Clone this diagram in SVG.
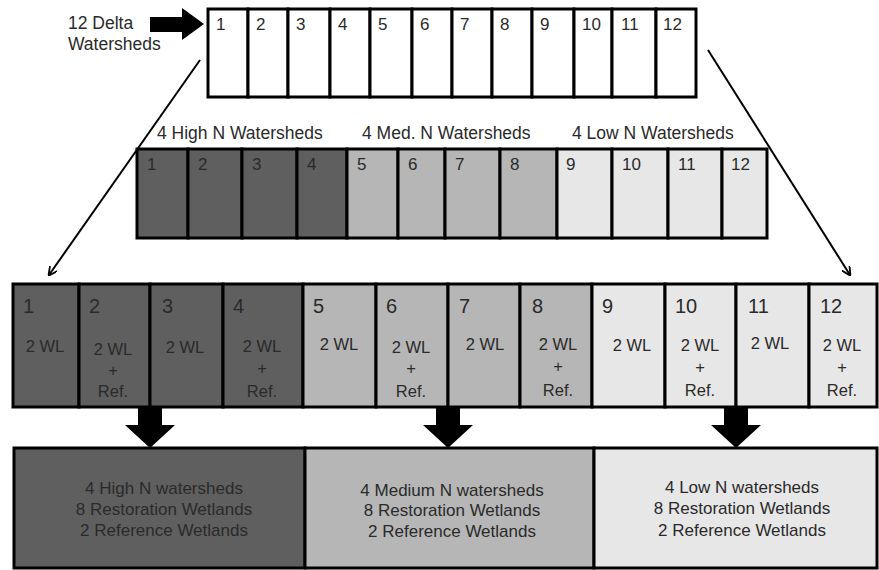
<svg xmlns="http://www.w3.org/2000/svg" width="879" height="570" viewBox="0 0 879 570">
<defs>
<marker id="ah" viewBox="0 0 10 10" refX="9" refY="5" markerWidth="9" markerHeight="9" orient="auto" markerUnits="userSpaceOnUse">
<path d="M0,0 L10,5 L0,10" fill="none" stroke="#000" stroke-width="2"/>
</marker>
</defs>
<style>
text{font-family:"Liberation Sans",Arial,sans-serif;fill:#2a2a2a}
.c{stroke:#000;stroke-width:3}
.w{fill:#fff}
.d{fill:#5f5f5f}
.m{fill:#b6b6b6}
.l{fill:#e7e7e7}
.n1{font-size:17px}
.n2{font-size:17px}
.n3{font-size:20px}
.wl{font-size:16.5px;text-anchor:middle}
.lab{font-size:17.5px}
.s{font-size:17px;text-anchor:middle}
.cn{stroke:#000;stroke-width:2;fill:none}
</style>
<rect width="879" height="570" fill="#fff"/>
<g id="intro-label">
<text class="lab" x="68" y="29">12 Delta</text>
<text class="lab" x="68" y="50">Watersheds</text>
</g>
<g id="top-row">
<g id="t1"><rect class="c w" x="208" y="9" width="40" height="88"/><text class="n1" x="216" y="30">1</text></g>
<g id="t2"><rect class="c w" x="248" y="9" width="40" height="88"/><text class="n1" x="256" y="30">2</text></g>
<g id="t3"><rect class="c w" x="288" y="9" width="42" height="88"/><text class="n1" x="296" y="30">3</text></g>
<g id="t4"><rect class="c w" x="330" y="9" width="40" height="88"/><text class="n1" x="338" y="30">4</text></g>
<g id="t5"><rect class="c w" x="370" y="9" width="42" height="88"/><text class="n1" x="378" y="30">5</text></g>
<g id="t6"><rect class="c w" x="412" y="9" width="40" height="88"/><text class="n1" x="420" y="30">6</text></g>
<g id="t7"><rect class="c w" x="452" y="9" width="40" height="88"/><text class="n1" x="460" y="30">7</text></g>
<g id="t8"><rect class="c w" x="492" y="9" width="40" height="88"/><text class="n1" x="500" y="30">8</text></g>
<g id="t9"><rect class="c w" x="532" y="9" width="42" height="88"/><text class="n1" x="540" y="30">9</text></g>
<g id="t10"><rect class="c w" x="574" y="9" width="38" height="88"/><text class="n1" x="582" y="30">10</text></g>
<g id="t11"><rect class="c w" x="612" y="9" width="44" height="88"/><text class="n1" x="621" y="30">11</text></g>
<g id="t12"><rect class="c w" x="656" y="9" width="40" height="88"/><text class="n1" x="663" y="30">12</text></g>
</g>
<g id="group-labels">
<text class="lab" x="157" y="139">4 High N Watersheds</text>
<text class="lab" x="362" y="139">4 Med. N Watersheds</text>
<text class="lab" x="572" y="139">4 Low N Watersheds</text>
</g>
<g id="mid-row">
<g id="m1"><rect class="c d" x="137" y="149" width="51" height="89"/><text class="n2" x="147" y="170">1</text></g>
<g id="m2"><rect class="c d" x="188" y="149" width="54" height="89"/><text class="n2" x="198" y="170">2</text></g>
<g id="m3"><rect class="c d" x="242" y="149" width="55" height="89"/><text class="n2" x="252" y="170">3</text></g>
<g id="m4"><rect class="c d" x="297" y="149" width="50" height="89"/><text class="n2" x="307" y="170">4</text></g>
<g id="m5"><rect class="c m" x="347" y="149" width="51" height="89"/><text class="n2" x="357" y="170">5</text></g>
<g id="m6"><rect class="c m" x="398" y="149" width="47" height="89"/><text class="n2" x="408" y="170">6</text></g>
<g id="m7"><rect class="c m" x="445" y="149" width="55" height="89"/><text class="n2" x="455" y="170">7</text></g>
<g id="m8"><rect class="c m" x="500" y="149" width="57" height="89"/><text class="n2" x="510" y="170">8</text></g>
<g id="m9"><rect class="c l" x="557" y="149" width="55" height="89"/><text class="n2" x="566" y="170">9</text></g>
<g id="m10"><rect class="c l" x="612" y="149" width="56" height="89"/><text class="n2" x="622" y="170">10</text></g>
<g id="m11"><rect class="c l" x="668" y="149" width="54" height="89"/><text class="n2" x="678" y="170">11</text></g>
<g id="m12"><rect class="c l" x="722" y="149" width="45" height="89"/><text class="n2" x="731" y="170">12</text></g>
</g>
<g id="bottom-row">
<g id="b1"><rect class="c d" x="13" y="284" width="66" height="123"/><text class="n3" x="23" y="313">1</text><text class="wl" x="45" y="352">2 WL</text></g>
<g id="b2"><rect class="c d" x="79" y="284" width="71" height="123"/><text class="n3" x="89" y="313">2</text><text class="wl" x="113" y="355">2 WL</text><text class="wl" x="113" y="376">+</text><text class="wl" x="113" y="397">Ref.</text></g>
<g id="b3"><rect class="c d" x="150" y="284" width="73" height="123"/><text class="n3" x="162" y="313">3</text><text class="wl" x="185" y="353">2 WL</text></g>
<g id="b4"><rect class="c d" x="223" y="284" width="80" height="123"/><text class="n3" x="233" y="313">4</text><text class="wl" x="262" y="352">2 WL</text><text class="wl" x="262" y="374">+</text><text class="wl" x="262" y="397">Ref.</text></g>
<g id="b5"><rect class="c m" x="303" y="284" width="73" height="123"/><text class="n3" x="313" y="313">5</text><text class="wl" x="339" y="350">2 WL</text></g>
<g id="b6"><rect class="c m" x="376" y="284" width="72" height="123"/><text class="n3" x="386" y="313">6</text><text class="wl" x="411" y="353">2 WL</text><text class="wl" x="411" y="374">+</text><text class="wl" x="411" y="397">Ref.</text></g>
<g id="b7"><rect class="c m" x="448" y="284" width="72" height="123"/><text class="n3" x="459" y="313">7</text><text class="wl" x="485" y="350">2 WL</text></g>
<g id="b8"><rect class="c m" x="520" y="284" width="72" height="123"/><text class="n3" x="532" y="313">8</text><text class="wl" x="558" y="350">2 WL</text><text class="wl" x="558" y="372">+</text><text class="wl" x="558" y="396">Ref.</text></g>
<g id="b9"><rect class="c l" x="592" y="284" width="73" height="123"/><text class="n3" x="602" y="313">9</text><text class="wl" x="632" y="351">2 WL</text></g>
<g id="b10"><rect class="c l" x="665" y="284" width="71" height="123"/><text class="n3" x="675" y="313">10</text><text class="wl" x="700" y="351">2 WL</text><text class="wl" x="700" y="373">+</text><text class="wl" x="700" y="396">Ref.</text></g>
<g id="b11"><rect class="c l" x="736" y="284" width="73" height="123"/><text class="n3" x="748" y="313">11</text><text class="wl" x="770" y="349">2 WL</text></g>
<g id="b12"><rect class="c l" x="809" y="284" width="68" height="123"/><text class="n3" x="820" y="313">12</text><text class="wl" x="842" y="351">2 WL</text><text class="wl" x="842" y="373">+</text><text class="wl" x="842" y="396">Ref.</text></g>
</g>
<g id="summary">
<g id="s-high"><rect class="c d" x="14" y="448" width="291" height="120"/><text class="s" x="164" y="494">4 High N watersheds</text><text class="s" x="164" y="515">8 Restoration Wetlands</text><text class="s" x="164" y="536">2 Reference Wetlands</text></g>
<g id="s-med"><rect class="c m" x="305" y="448" width="289" height="120"/><text class="s" x="452" y="496">4 Medium N watersheds</text><text class="s" x="452" y="516">8 Restoration Wetlands</text><text class="s" x="452" y="537">2 Reference Wetlands</text></g>
<g id="s-low"><rect class="c l" x="594" y="448" width="283" height="120"/><text class="s" x="742" y="493">4 Low N watersheds</text><text class="s" x="742" y="514">8 Restoration Wetlands</text><text class="s" x="742" y="536">2 Reference Wetlands</text></g>
</g>
<g id="connectors">
<polygon points="150,17 182,17 182,8 204,24 182,40 182,32 150,32" fill="#000"/>
<line class="cn" x1="200" y1="60" x2="49" y2="275" marker-end="url(#ah)"/>
<line class="cn" x1="708" y1="50" x2="850" y2="275" marker-end="url(#ah)"/>
<polygon points="138,407 162,407 162,425 175,425 150,448 125,425 138,425" fill="#000"/>
<polygon points="436,407 460,407 460,425 473,425 448,448 423,425 436,425" fill="#000"/>
<polygon points="724,407 748,407 748,425 761,425 736,448 711,425 724,425" fill="#000"/>
</g>
</svg>
